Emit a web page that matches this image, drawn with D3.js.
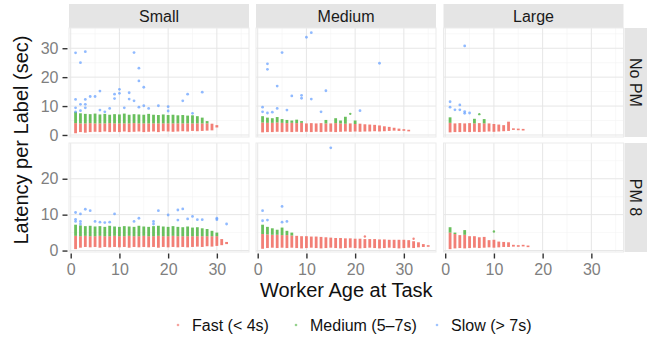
<!DOCTYPE html>
<html><head><meta charset="utf-8">
<script src="https://cdn.jsdelivr.net/npm/d3@7"></script>
<style>
body{margin:0;background:#fff;overflow:hidden}
text{font-family:"Liberation Sans",Arial,Helvetica,sans-serif}
</style>
</head><body>
<svg id="chart" width="656" height="337"></svg>
<script>
// ---------- data ----------
const sizes = ["Small", "Medium", "Large"];
const pmRows = ["No PM", "PM 8"];
const legendLabels = ["Fast (< 4s)", "Medium (5\u20137s)", "Slow (> 7s)"];
const xTickVals = [0, 10, 20, 30];
const yTickValsNoPM = [0, 10, 20, 30];
const yTickValsPM8 = [0, 10, 20];
const xTitle = "Worker Age at Task";
const yTitle = "Latency per Label (sec)";

// Small / No PM
const agesS0 = [1,2,3,4,5,6,7,8,9,10,11,12,13,14,15,16,17,18,19,20,21,22,23,24,25,26,27,28,29,30];
const fastLoS0 = [0.6,1.0,0.8,1.0,1.1,1.0,1.2,1.0,1.1,1.0,1.2,1.0,1.1,1.2,1.0,1.1,1.2,1.0,1.3,1.2,1.1,1.2,1.3,1.2,1.4,1.3,1.4,1.5,1.6,2.6];
const fastHiS0 = [4.1,4.0,4.0,4.1,4.0,4.0,4.0,4.1,4.0,4.0,4.0,4.0,4.1,4.0,4.0,4.0,4.0,4.0,4.0,4.0,4.0,4.0,4.0,4.0,4.0,4.0,4.0,4.0,3.9,3.4];
const medHiS0 = [8.0,7.5,7.3,7.2,7.4,7.1,7.3,7.0,7.2,7.1,7.4,7.0,7.2,7.1,7.0,7.3,7.0,6.9,7.1,6.9,7.0,6.8,6.9,6.7,6.8,6.5,6.0,4.8,0,0];
const slowS0 = [[1,28.4],[3,28.8],[2,25.0],[13,28.5],[14,23.1],[14,18.7],[15,16.5],[27,14.8],[24,14.1],[23,11.8],[10,15.8],[10,14.4],[6,15.2],[5,13.3],[4,13.3],[1,12.3],[2,10.6],[3,12.3],[3,10.6],[3,9.4],[1,9.4],[1,8.0],[9,14.1],[9,12.6],[12,14.6],[12,12.4],[11,9.4],[13,11.8],[15,10.1],[16,9.2],[18,10.1],[20,9.8],[20,8.3],[25,7.5],[7,8.0],[8,9.2],[6,8.6],[2,8.4],[14,9.6]];

// Medium / No PM
const agesM0 = [1,2,3,4,5,6,7,8,9,10,11,12,13,14,15,16,17,18,19,20,21,22,23,24,25,26,27,28,29,30,31];
const fastLoM0 = [0.9,1.0,1.0,1.1,1.0,1.1,1.0,1.1,1.0,1.1,1.0,1.1,1.0,1.1,1.1,1.0,1.1,1.2,1.1,1.2,1.1,1.2,1.2,1.3,1.2,1.3,1.4,1.5,1.4,1.5,1.6];
const fastHiM0 = [4.3,4.2,4.2,4.3,4.2,4.1,4.2,4.1,4.2,4.0,4.1,4.0,4.1,4.0,4.0,4.1,4.0,3.9,4.0,3.8,3.9,3.7,3.6,3.5,3.3,3.0,2.8,2.5,2.2,2.0,1.8];
const medHiM0 = [6.5,6.0,5.8,6.2,5.5,5.2,5.0,5.3,4.8,0,0,0,0,5.2,0,5.8,5.0,6.3,0,5.0,0,0,0,0,0,0,0,0,0,0,0];
const slowM0 = [[10,33.8],[11,35.4],[5,28.5],[2,24.6],[2,22.7],[4,16.9],[7,13.5],[9,12.7],[9,13.7],[11,12.4],[14,15.3],[1,9.6],[1,8.0],[2,7.6],[3,7.9],[4,9.2],[6,8.6],[13,8.0],[25,24.8],[21,8.4]];
const extraMedM0 = [[19,7.3]];

// Large / No PM
const agesL0 = [1,2,3,4,5,6,7,8,9,10,11,12,13,14,15,16];
const fastLoL0 = [0.9,1.0,1.0,1.1,1.0,1.1,1.0,1.1,1.2,1.1,1.2,1.3,1.4,1.8,1.9,2.0];
const fastHiL0 = [4.2,4.0,4.1,4.0,4.1,4.0,4.1,4.0,4.0,3.8,3.6,3.4,4.6,2.3,2.2,2.1];
const medHiL0 = [6.1,0,0,0,0,5.6,0,5.5,0,0,0,0,0,0,0,0];
const slowL0 = [[4,30.8],[1,11.5],[1,9.6],[3,10.4],[2,8.7],[3,8.7],[4,8.1],[4,7.5],[5,7.6]];
const extraMedL0 = [[7,7.2]];

// Small / PM 8
const agesS8 = [1,2,3,4,5,6,7,8,9,10,11,12,13,14,15,16,17,18,19,20,21,22,23,24,25,26,27,28,29,30,31,32];
const fastLoS8 = [0.4,0.8,1.0,0.9,1.0,0.8,1.0,0.9,1.0,0.9,1.0,0.8,1.0,0.9,1.0,0.9,1.0,0.8,1.0,0.9,1.0,0.9,1.0,0.9,1.0,1.1,1.0,1.2,1.1,1.3,1.5,1.8];
const fastHiS8 = [4.1,4.0,4.1,4.0,4.0,4.1,4.0,4.0,4.1,4.0,4.0,4.1,4.0,4.0,4.1,4.0,4.0,4.1,4.0,4.0,4.1,4.0,4.0,4.0,4.0,4.0,4.0,4.0,4.0,4.0,3.2,2.4];
const medHiS8 = [7.2,7.0,6.8,6.9,6.7,6.8,6.6,6.9,6.7,6.6,6.8,6.7,6.6,6.9,6.7,6.6,6.8,6.9,6.7,6.6,6.8,6.6,6.5,6.7,6.4,6.5,6.2,6.0,5.5,5.0,0,0];
const slowS8 = [[1,10.6],[2,10.2],[3,11.5],[4,11.1],[9,10.2],[1,8.7],[1,8.1],[2,8.1],[2,7.4],[5,8.1],[6,7.9],[7,7.8],[8,7.9],[13,8.1],[14,9.0],[17,8.1],[17,7.4],[18,11.1],[20,9.9],[22,11.3],[23,11.6],[22,8.5],[25,9.5],[26,8.6],[27,8.6],[30,9.0],[30,8.6],[32,7.4],[24,8.8]];

// Medium / PM 8
const agesM8 = [1,2,3,4,5,6,7,8,9,10,11,12,13,14,15,16,17,18,19,20,21,22,23,24,25,26,27,28,29,30,31,32,33,34,35];
const fastLoM8 = [0.5,0.7,0.8,0.7,0.8,0.7,0.8,0.7,0.6,0.7,0.8,0.7,0.6,0.7,0.8,0.7,0.6,0.7,0.8,0.7,0.6,0.7,0.8,0.7,0.6,0.7,0.8,0.7,0.6,0.7,0.8,0.7,0.9,1.0,1.2];
const fastHiM8 = [4.6,4.5,4.4,4.4,4.3,4.3,4.2,4.1,4.0,4.0,3.9,3.9,3.8,3.7,3.6,3.5,3.5,3.4,3.4,3.3,3.3,3.2,3.2,3.2,3.1,3.1,3.0,3.0,3.0,3.0,2.9,2.6,2.3,1.8,1.5];
const medHiM8 = [7.2,6.6,6.2,5.8,6.4,5.5,5.0,0,0,0,0,0,0,0,0,0,0,0,0,0,0,0,0,0,0,0,0,0,0,0,0,0,0,0,0];
const slowM8 = [[1,11.1],[1,8.3],[2,8.5],[5,12.3],[5,7.9],[6,8.1],[15,28.6]];
const extraFastM8 = [[22,3.9],[32,3.3]];

// Large / PM 8
const agesL8 = [1,2,3,4,5,6,7,8,9,10,11,12,13,14,15,16,17];
const fastLoL8 = [0.4,0.6,0.7,0.6,0.7,0.8,0.7,0.8,0.9,0.8,0.9,1.0,1.0,1.1,1.1,1.2,1.2];
const fastHiL8 = [5.0,4.6,4.3,4.4,4.0,4.0,3.7,3.8,2.9,3.0,2.5,2.4,2.3,1.6,1.5,1.6,1.4];
const medHiL8 = [6.5,5.0,0,5.7,0,0,0,0,0,0,0,0,0,0,0,0,0];
const extraMedL8 = [[10,5.3]];

// ---------- styling / layout ----------
const colFast = "#F0685E", colMed = "#4FB441", colSlow = "#619CFF";
const W = 656, H = 337;
const panelLeft = [69, 256, 443.5];
const panelW = 180;
const rowTop = [28, 143];
const panelH = 109;
const stripTop = 4;
const xDomain = [-0.35, 36.6];
const yDomains = [[-0.7, 37.0], [-0.4, 29.95]];
const yTickSets = [yTickValsNoPM, yTickValsPM8];

const panels = [
  {c:0,r:0,ages:agesS0,lo:fastLoS0,hi:fastHiS0,med:medHiS0,slow:slowS0,exMed:[],exFast:[]},
  {c:1,r:0,ages:agesM0,lo:fastLoM0,hi:fastHiM0,med:medHiM0,slow:slowM0,exMed:extraMedM0,exFast:[]},
  {c:2,r:0,ages:agesL0,lo:fastLoL0,hi:fastHiL0,med:medHiL0,slow:slowL0,exMed:extraMedL0,exFast:[]},
  {c:0,r:1,ages:agesS8,lo:fastLoS8,hi:fastHiS8,med:medHiS8,slow:slowS8,exMed:[],exFast:[]},
  {c:1,r:1,ages:agesM8,lo:fastLoM8,hi:fastHiM8,med:medHiM8,slow:slowM8,exMed:[],exFast:extraFastM8},
  {c:2,r:1,ages:agesL8,lo:fastLoL8,hi:fastHiL8,med:medHiL8,slow:[],exMed:extraMedL8,exFast:[]}
];

const svg = d3.select("#chart");
svg.append("rect").attr("width", W).attr("height", H).attr("fill", "#fff");

// top strips
sizes.forEach((s, i) => {
  const g = svg.append("g");
  g.append("rect").attr("x", panelLeft[i]).attr("y", stripTop)
    .attr("width", panelW).attr("height", rowTop[0] - stripTop).attr("fill", "#e5e5e5");
  g.append("text").attr("x", panelLeft[i] + panelW / 2).attr("y", (stripTop + rowTop[0]) / 2)
    .attr("text-anchor", "middle").attr("dominant-baseline", "central")
    .attr("font-size", 16).attr("fill", "#1a1a1a").text(s);
});
// right strips
const rsX = panelLeft[2] + panelW + 1, rsW = 22.5;
pmRows.forEach((s, j) => {
  svg.append("rect").attr("x", rsX).attr("y", rowTop[j]).attr("width", rsW).attr("height", panelH).attr("fill", "#e5e5e5");
  svg.append("text").attr("transform", `translate(${rsX + rsW / 2},${rowTop[j] + panelH / 2}) rotate(90)`)
    .attr("text-anchor", "middle").attr("dominant-baseline", "central")
    .attr("font-size", 16).attr("fill", "#1a1a1a").text(s);
});

panels.forEach(p => {
  const x0 = panelLeft[p.c], y0 = rowTop[p.r];
  const xs = d3.scaleLinear().domain(xDomain).range([x0, x0 + panelW]);
  const ys = d3.scaleLinear().domain(yDomains[p.r]).range([y0 + panelH, y0]);
  const g = svg.append("g");
  g.append("rect").attr("x", x0).attr("y", y0).attr("width", panelW).attr("height", panelH)
    .attr("fill", "#fff");
  const clipId = `clip${p.c}${p.r}`;
  g.append("clipPath").attr("id", clipId).append("rect")
    .attr("x", x0).attr("y", y0).attr("width", panelW).attr("height", panelH);
  const inner = g.append("g").attr("clip-path", `url(#${clipId})`);
  // minor grid
  const xMinor = xs.ticks(8).filter(v => v % 10 !== 0);
  const yMinor = ys.ticks(8).filter(v => v % 10 !== 0);
  inner.selectAll(".xm").data(xMinor).join("line")
    .attr("x1", d => xs(d)).attr("x2", d => xs(d)).attr("y1", y0).attr("y2", y0 + panelH)
    .attr("stroke", "#f3f3f3").attr("stroke-width", 0.6);
  inner.selectAll(".ym").data(yMinor).join("line")
    .attr("y1", d => ys(d)).attr("y2", d => ys(d)).attr("x1", x0).attr("x2", x0 + panelW)
    .attr("stroke", "#f3f3f3").attr("stroke-width", 0.6);
  // major grid
  inner.selectAll(".xM").data(xTickVals).join("line")
    .attr("x1", d => xs(d)).attr("x2", d => xs(d)).attr("y1", y0).attr("y2", y0 + panelH)
    .attr("stroke", "#e6e6e6").attr("stroke-width", 1);
  inner.selectAll(".yM").data(yTickSets[p.r]).join("line")
    .attr("y1", d => ys(d)).attr("y2", d => ys(d)).attr("x1", x0).attr("x2", x0 + panelW)
    .attr("stroke", "#e6e6e6").attr("stroke-width", 1);

  const idx = p.ages.map((a, i) => i);
  // fast columns
  inner.selectAll(".fc").data(idx).join("rect")
    .attr("x", i => xs(p.ages[i]) - 1.4).attr("width", 2.8)
    .attr("y", i => ys(p.hi[i])).attr("height", i => Math.max(1.6, ys(p.lo[i]) - ys(p.hi[i])))
    .attr("fill", colFast).attr("opacity", 0.85);
  // medium columns
  inner.selectAll(".mc").data(idx.filter(i => p.med[i] > p.hi[i])).join("rect")
    .attr("x", i => xs(p.ages[i]) - 1.4).attr("width", 2.8)
    .attr("y", i => ys(p.med[i])).attr("height", i => ys(p.hi[i]) - ys(p.med[i]))
    .attr("fill", colMed).attr("opacity", 0.85);
  // extra points
  inner.selectAll(".ef").data(p.exFast).join("circle")
    .attr("cx", d => xs(d[0])).attr("cy", d => ys(d[1])).attr("r", 1.2)
    .attr("fill", colFast).attr("opacity", 0.8);
  inner.selectAll(".em").data(p.exMed).join("circle")
    .attr("cx", d => xs(d[0])).attr("cy", d => ys(d[1])).attr("r", 1.2)
    .attr("fill", colMed).attr("opacity", 0.8);
  inner.selectAll(".sl").data(p.slow).join("circle")
    .attr("cx", d => xs(d[0])).attr("cy", d => ys(d[1])).attr("r", 1.4)
    .attr("fill", colSlow).attr("opacity", 0.7);
  // border
  g.append("rect").attr("x", x0).attr("y", y0).attr("width", panelW).attr("height", panelH)
    .attr("fill", "none").attr("stroke", "#ebebeb").attr("stroke-width", 1);

  // y axis (first column)
  if (p.c === 0) {
    const ax = svg.append("g").attr("transform", `translate(${x0 - 1.5},0)`)
      .call(d3.axisLeft(ys).tickValues(yTickSets[p.r]).tickSize(5).tickPadding(4).tickFormat(d3.format("d")));
    ax.select(".domain").remove();
    ax.selectAll(".tick line").attr("stroke", "#333").attr("stroke-width", 1.4);
    ax.selectAll(".tick text").attr("fill", "#7f7f7f").attr("font-size", 16)
      .attr("font-family", "Liberation Sans, Arial, sans-serif");
  }
  // x axis (bottom row)
  if (p.r === 1) {
    const ax = svg.append("g").attr("transform", `translate(0,${y0 + panelH + 1.5})`)
      .call(d3.axisBottom(xs).tickValues(xTickVals).tickSize(5).tickPadding(5).tickFormat(d3.format("d")));
    ax.select(".domain").remove();
    ax.selectAll(".tick line").attr("stroke", "#333").attr("stroke-width", 1.4);
    ax.selectAll(".tick text").attr("fill", "#7f7f7f").attr("font-size", 16)
      .attr("font-family", "Liberation Sans, Arial, sans-serif");
  }
});

// titles
svg.append("text").attr("x", (panelLeft[0] + panelLeft[2] + panelW) / 2).attr("y", 297)
  .attr("text-anchor", "middle").attr("font-size", 20).attr("fill", "#111").text(xTitle);
svg.append("text").attr("transform", `translate(28,${(rowTop[0] + rowTop[1] + panelH) / 2}) rotate(-90)`)
  .attr("text-anchor", "middle").attr("font-size", 20).attr("fill", "#111").text(yTitle);

// legend
const legX = [178, 296, 437];
const legCols = [colFast, colMed, colSlow];
legendLabels.forEach((l, i) => {
  svg.append("circle").attr("cx", legX[i]).attr("cy", 325).attr("r", 1.3)
    .attr("fill", legCols[i]).attr("opacity", 0.6);
  svg.append("text").attr("x", legX[i] + 14).attr("y", 331).attr("font-size", 16)
    .attr("fill", "#111").text(l);
});
</script>
</body></html>
